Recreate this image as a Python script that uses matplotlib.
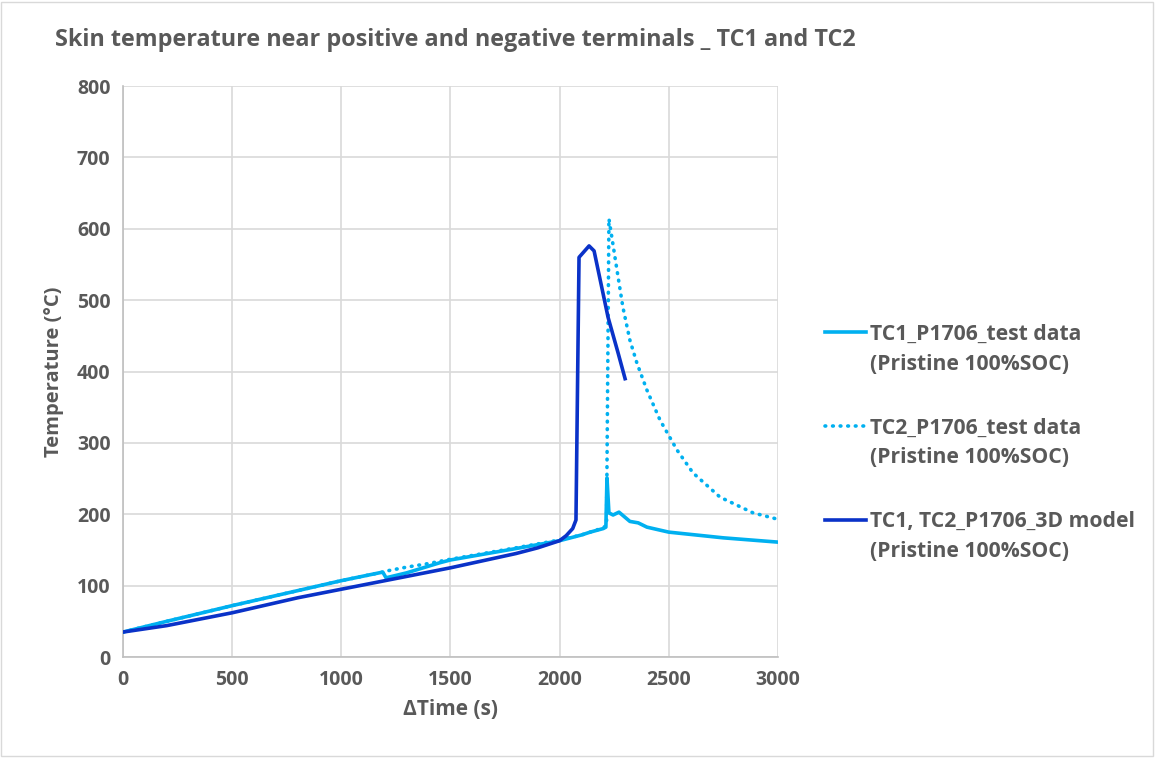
import matplotlib.pyplot as plt

# TC1 test data (light blue, solid)
tc1_t = [0, 200, 500, 800, 1000, 1190, 1205, 1300, 1450, 1500, 1800, 2000, 2100, 2140, 2200,
         2212, 2217, 2226, 2245, 2272, 2322, 2360, 2400, 2500, 2750, 3000]
tc1_T = [35, 50, 72, 93, 107, 119, 111, 118, 132, 136, 152, 163, 171, 175, 180,
         182, 251, 202, 199, 203, 190, 188, 182, 175, 167, 161]

# TC2 test data (light blue, dotted)
tc2_t = [0, 200, 500, 800, 1000, 1190, 1215, 1300, 1400, 1500, 1800, 2000, 2100, 2200, 2215,
         2226, 2263, 2290, 2322, 2354, 2400, 2460, 2538, 2611, 2735, 2886, 3000]
tc2_T = [35, 50, 72, 93, 107, 119, 121, 126, 131, 137, 153, 164, 171, 181, 185,
         614, 542, 490, 444, 412, 374, 332, 290, 258, 224, 202, 193]

# 3D model (dark blue)
mod_t = [0, 200, 500, 800, 1000, 1500, 1800, 1900, 2000, 2030, 2060, 2075, 2089, 2135,
         2158, 2222, 2268, 2300]
mod_T = [35, 44, 62, 83, 95, 125, 145, 153, 163, 170, 180, 192, 560, 576,
         569, 476, 426, 390]

labels = ['TC1_P1706_test data', 'TC2_P1706_test data', 'TC1, TC2_P1706_3D model']
sublabel = '(Pristine 100%SOC)'

gray = '#595959'
light = '#00B0F0'
dark = '#0A32C8'

plt.rcParams['font.family'] = ['Open Sans', 'DejaVu Sans']
plt.rcParams['font.weight'] = 'bold'

fig = plt.figure(figsize=(11.55, 7.58), dpi=100)
ax = fig.add_axes([0.1065, 0.1332, 0.567, 0.7533])

ax.plot(tc1_t, tc1_T, color=light, lw=2.6, label=labels[0], zorder=3)
ax.plot(tc2_t, tc2_T, color=light, lw=2.6, ls=(0, (0.2, 1.9)), dash_capstyle='round',
        label=labels[1], zorder=3)
ax.plot(mod_t, mod_T, color=dark, lw=2.6, label=labels[2], zorder=4)

ax.set_xlim(0, 3000)
ax.set_ylim(0, 800)
ax.set_xticks(range(0, 3001, 500))
ax.set_yticks(range(0, 801, 100))
ax.grid(True, color='#D9D9D9', lw=1.2)
ax.set_axisbelow(True)
for s in ['top', 'right']:
    ax.spines[s].set_visible(False)
for s in ['left', 'bottom']:
    ax.spines[s].set_color('#BFBFBF')
    ax.spines[s].set_linewidth(1.2)
ax.tick_params(length=0, labelsize=14, labelcolor=gray, pad=9)
for lab in ax.get_xticklabels() + ax.get_yticklabels():
    lab.set_fontweight('bold')

ax.set_xlabel('\u0394Time (s)', fontsize=15, color=gray, fontweight='bold', labelpad=7)
ax.set_ylabel('Temperature (\u00b0C)', fontsize=14.5, color=gray, fontweight='bold', labelpad=9)

fig.text(0.048, 0.947, 'Skin temperature near positive and negative terminals _ TC1 and TC2',
         fontsize=16.8, color=gray, fontweight='bold', va='center')

# legend: first line of each label next to its handle, second line written below it
leg = fig.legend(loc='center left', bbox_to_anchor=(0.714, 0.4354), frameon=False,
                 fontsize=15.2, labelcolor=gray, handlelength=1.95, handletextpad=0.2,
                 labelspacing=3.44, borderpad=0, borderaxespad=0)
for t in leg.get_texts():
    t.set_fontweight('bold')

fig.canvas.draw()
W, H = fig.bbox.width, fig.bbox.height
for t in leg.get_texts():
    bb = t.get_window_extent()
    fig.text(bb.x0 / W, ((bb.y0 + bb.y1) / 2 - 30) / H, sublabel, fontsize=15.2,
             color=gray, fontweight='bold', va='center', ha='left')

fig.patches.append(plt.Rectangle((0.001, 0.003), 0.997, 0.995, transform=fig.transFigure,
                                 fill=False, edgecolor='#D9D9D9', lw=1))

fig.savefig('out.png', dpi=100)
